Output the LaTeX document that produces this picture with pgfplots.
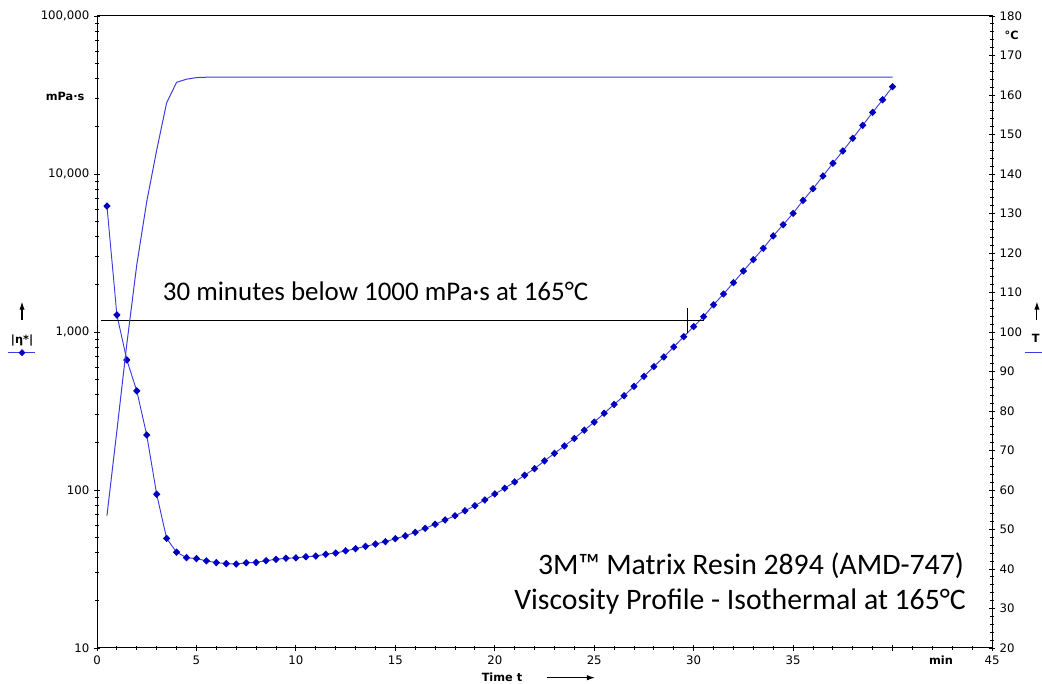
\documentclass[border=0pt]{standalone}
\usepackage{fontspec}
\setmainfont{DejaVu Sans}
\newfontfamily\carlito{Carlito}
\usepackage{pgfplots}
\pgfplotsset{compat=1.18}
\usepackage{pgfplotstable}
\usetikzlibrary{arrows.meta}

\definecolor{markblue}{RGB}{0,0,190}
\definecolor{lineblue}{RGB}{60,60,225}

\pgfplotsset{
  chart/.style={
    scale only axis, width=671.25pt, height=474pt,
    at={(0,0)}, anchor=south west,
    xmin=0, xmax=45, clip=false,
    tick label style={font=\fontsize{8.8}{10}\selectfont, text=black},
    /pgf/number format/assume math mode=true,
    tick align=center, major tick length=4.5pt, minor tick length=2.5pt,
    tick style={black, line width=0.6pt},
    axis line style={line width=0.75pt},
  },
}
\tikzset{
  lbl/.style={font=\bfseries\fontsize{8.5}{10}\selectfont},
  big/.style={inner sep=0pt, font=\carlito\fontsize{20.2}{24}\selectfont},
  bigger/.style={inner sep=0pt, font=\carlito\fontsize{22.3}{26}\selectfont},
}

% viscosity |eta*| in mPa.s vs time in min
\pgfplotstableread{
t eta
0.5 6270
1.0 1282
1.5 665
2.0 424
2.5 223
3.0 94
3.5 49.4
4.0 40.4
4.5 37.3
5.0 36.8
5.5 35.6
6.0 34.7
6.5 34.2
7.0 34.0
7.5 34.6
8.0 34.8
8.5 35.7
9.0 36.4
9.5 37.0
10.0 37.2
10.5 37.8
11.0 38.2
11.5 39.2
12.0 39.9
12.5 41.2
13.0 42.5
13.5 44.0
14.0 45.5
14.5 47.1
15.0 49.2
15.5 51.2
16.0 54.0
16.5 57.2
17.0 60.7
17.5 64.6
18.0 68.7
18.5 73.9
19.0 79.6
19.5 86.5
20.0 94.4
20.5 102.6
21.0 112.5
21.5 124
22.0 136.5
22.5 153
23.0 170.6
23.5 190
24.0 212
24.5 239
25.0 269
25.5 306
26.0 348
26.5 395
27.0 453
27.5 524
28.0 604
28.5 695
29.0 804
29.5 934
30.0 1082
30.5 1251
31.0 1487
31.5 1740
32.0 2052
32.5 2433
33.0 2871
33.5 3388
34.0 4055
34.5 4779
35.0 5634
35.5 6808
36.0 8069
36.5 9710
37.0 11690
37.5 13990
38.0 16830
38.5 20330
39.0 24560
39.5 29500
40.0 35700
}\visc

% temperature T in degC vs time in min
\pgfplotstableread{
t T
0.5 53.5
1.0 75
1.5 97
2.0 117
2.5 133
3.0 146
3.5 158
4.0 163.2
4.5 164.0
5.0 164.4
5.5 164.5
40.0 164.5
}\temp

\begin{document}
\begin{tikzpicture}
\begin{axis}[chart,
  ymode=log, ymin=10, ymax=100000,
  ytick={10,100,1000,10000,100000},
  yticklabels={10,100,{1,000},{10,000},{100,000}},
  minor ytick={20,30,40,50,60,70,80,90,200,300,400,500,600,700,800,900,
    2000,3000,4000,5000,6000,7000,8000,9000,20000,30000,40000,50000,60000,70000,80000,90000},
  xtick={0,5,...,45},
  xticklabels={0,5,10,15,20,25,30,35,,45},
  minor x tick num=4,
  xtick pos=bottom, ytick pos=left,
]
  \addplot[color=lineblue, line width=0.7pt, mark=diamond*, mark size=2.3pt,
    mark options={fill=markblue, draw=markblue, xscale=1.3}] table[x=t, y=eta] {\visc};

  % legend sample on the left
  \addplot[color=lineblue, line width=0.7pt, forget plot] coordinates {(-4.47,740) (-3.12,740)};
  \addplot[only marks, mark=diamond*, mark size=2.3pt,
    mark options={fill=markblue, draw=markblue, xscale=1.3}] coordinates {(-3.77,740)};
  \node[lbl] at (axis cs:-3.77,877) {|η*|};
  \draw[-{Latex[length=6pt,width=4pt]}, line width=0.8pt] (axis cs:-3.77,1191) -- (axis cs:-3.77,1556);

  % annotation
  \draw[black, line width=0.75pt] (axis cs:0.2,1191) -- (axis cs:30.5,1191);
  \draw[black, line width=0.75pt] (axis cs:29.68,991) -- (axis cs:29.68,1413);
  \node[big, anchor=base west] at (axis cs:3.3,1594) {30 minutes below 1000 mPa·s at 165°C};
  \node[bigger, anchor=base east] at (axis cs:43.6,29.0) {3M™ Matrix Resin 2894 (AMD-747)};
  \node[bigger, anchor=base east] at (axis cs:43.7,17.4) {Viscosity Profile - Isothermal at 165°C};

  % axis texts
  \node[lbl, anchor=base east] at (rel axis cs:-0.0089,0.867) {mPa·s};
  \node[lbl, anchor=base west] at (rel axis cs:1.0089,0.963) {°C};
  \node[lbl, anchor=base] at (rel axis cs:0.943,-0.0269) {min};
  \node[lbl] at (rel axis cs:0.4525,-0.0459) {Time t};
  \draw[-{Latex[length=6pt,width=4pt]}, line width=0.75pt]
    (rel axis cs:0.5024,-0.047) -- (rel axis cs:0.5564,-0.047);
\end{axis}

\begin{axis}[chart,
  ymin=20, ymax=180,
  axis y line*=right, axis x line=none,
  ytick={20,30,...,180}, minor y tick num=4,
]
  \addplot[color=lineblue, line width=0.75pt] table[x=t, y=T] {\temp};

  % legend sample on the right
  \addplot[color=lineblue, line width=0.75pt] coordinates {(46.66,94.7) (48,94.7)};
  \node[lbl] at (axis cs:47.2,98.5) {T};
  \draw[-{Latex[length=6pt,width=4pt]}, line width=0.8pt] (axis cs:47.26,103) -- (axis cs:47.26,107.7);
\end{axis}

\pgfresetboundingbox
\path (-72.75pt,-27pt) rectangle (708.75pt,486pt);
\end{tikzpicture}
\end{document}
